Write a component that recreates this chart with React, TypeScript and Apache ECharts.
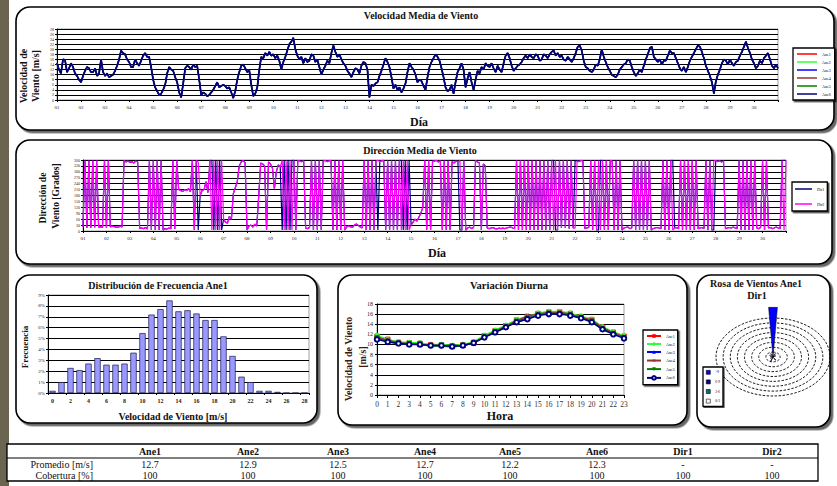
import React, { useEffect, useRef } from 'react';
import * as echarts from 'echarts';

const FONT = "'Liberation Serif', 'Times New Roman', serif";

// ---------- Velocidad media de viento (readings every 2 h, days 1..31) ----------
const speedPerDay = 12;
// the six anemometer traces overlap almost completely; read as one trace
const anemometerSpeed = [
  14.5, 12.0, 10.5, 16.0, 15.8, 11.0, 12.5, 14.5, 13.0, 10.5, 9.5, 8.0,
  7.0, 9.5, 11.5, 13.0, 12.5, 11.0, 11.0, 12.5, 9.5, 10.5, 16.0, 11.0,
  9.5, 10.5, 9.0, 9.5, 10.0, 11.5, 13.5, 16.0, 19.5, 18.5, 18.0, 16.0,
  15.0, 13.0, 13.0, 16.0, 14.5, 13.5, 15.5, 17.5, 18.5, 17.0, 17.0, 13.0,
  8.0, 5.0, 3.5, 2.0, 2.5, 4.0, 6.0, 10.5, 13.0, 12.0, 11.5, 9.0,
  7.0, 3.0, 1.0, 6.5, 12.5, 13.5, 13.0, 12.0, 14.0, 13.0, 13.5, 8.0,
  2.0, 3.0, 2.5, 1.5, 2.0, 3.0, 4.0, 5.5, 7.0, 5.0, 5.5, 6.0,
  5.5, 4.5, 5.0, 3.0, 0.8, 3.5, 8.0, 11.0, 13.5, 14.0, 12.5, 11.0,
  11.8, 6.0, 1.5, 2.5, 5.0, 12.0, 17.0, 16.5, 18.5, 17.5, 19.0, 17.5,
  18.0, 16.5, 17.5, 15.5, 12.0, 15.0, 17.0, 19.5, 22.0, 23.0, 24.5, 20.0,
  17.5, 16.0, 17.0, 14.5, 16.5, 15.0, 15.5, 18.0, 17.5, 15.0, 16.0, 13.0,
  10.0, 12.0, 13.5, 15.5, 14.5, 18.5, 21.5, 19.0, 17.0, 18.0, 16.0, 14.5,
  13.5, 11.5, 10.5, 9.0, 11.0, 12.5, 12.0, 10.5, 13.5, 15.0, 14.5, 12.0,
  1.0, 6.0, 5.5, 6.5, 7.0, 9.5, 11.5, 14.0, 16.5, 15.0, 13.0, 9.0,
  4.5, 6.0, 4.0, 5.0, 3.0, 4.5, 6.5, 11.0, 14.5, 13.0, 12.0, 10.0,
  7.0, 8.0, 7.5, 5.5, 4.0, 9.0, 13.0, 15.0, 16.5, 18.0, 17.0, 15.5,
  12.5, 9.0, 5.0, 3.5, 4.0, 6.0, 2.5, 7.0, 11.0, 12.5, 14.5, 12.0,
  5.0, 8.5, 11.0, 7.0, 4.0, 8.0, 11.5, 10.5, 13.0, 12.0, 14.5, 13.5,
  13.0, 14.5, 12.5, 11.0, 13.5, 12.0, 11.0, 14.5, 17.5, 18.5, 16.5, 13.5,
  11.5, 12.5, 13.5, 14.0, 15.0, 16.5, 17.5, 16.5, 18.0, 17.0, 16.5, 18.0,
  17.5, 15.5, 16.0, 18.0, 17.5, 16.5, 18.0, 19.0, 19.5, 17.5, 18.5, 17.0,
  17.5, 16.0, 15.5, 17.0, 16.0, 15.0, 16.5, 18.5, 21.0, 21.5, 19.5, 15.5,
  13.0, 12.5, 11.5, 11.0, 12.0, 14.0, 13.5, 16.0, 20.0, 17.0, 15.0, 13.0,
  11.5, 10.0, 9.5, 9.0, 10.0, 12.0, 13.0, 14.0, 14.5, 16.0, 15.5, 13.0,
  11.0, 9.5, 10.5, 12.0, 11.0, 13.5, 16.0, 18.0, 20.5, 21.0, 17.0, 16.0,
  15.0, 16.0, 14.0, 15.5, 15.5, 17.5, 19.5, 18.5, 18.5, 16.5, 14.5, 12.5,
  11.5, 13.0, 11.0, 13.0, 15.5, 17.0, 18.5, 20.0, 21.5, 21.0, 19.0, 16.5,
  13.5, 11.5, 9.5, 7.0, 2.5, 7.5, 10.0, 12.0, 14.5, 16.0, 15.5, 14.0,
  16.0, 14.5, 13.5, 15.0, 15.5, 17.5, 19.0, 21.0, 23.0, 20.5, 18.5, 16.0,
  14.5, 12.5, 13.5, 15.5, 14.5, 16.5, 17.5, 18.5, 16.0, 13.5, 12.5, 14.0,
  12.5,
];

// ---------- Dirección media de viento (readings every 2 h) ----------
const dirPerDay = 12;
const dir2Deg = [
  20, 358, 15, 358, 15, 358, 18, 358, 20, 22, 18, 358,
  15, 358, 20, 25, 22, 20, 18, 25, 20, 358, 350, 355,
  348, 352, 345, 355, 350, 15, 15, 12, 18, 10, 358, 5,
  358, 5, 358, 5, 358, 5, 12, 10, 15, 12, 358, 10,
  358, 210, 205, 200, 210, 205, 215, 200, 358, 5, 358, 350,
  180, 205, 210, 250, 195, 358, 5, 358, 5, 358, 5, 358,
  60, 45, 40, 75, 60, 190, 220, 250, 330, 350, 358, 345,
  5, 25, 30, 20, 35, 25, 180, 345, 340, 330, 5, 350,
  340, 320, 215, 300, 335, 325, 358, 5, 358, 5, 358, 5,
  358, 5, 358, 355, 352, 356, 15, 12, 18, 358, 5, 358,
  5, 358, 5, 355, 358, 352, 356, 358, 5, 358, 5, 358,
  5, 358, 5, 20, 25, 22, 18, 30, 35, 28, 20, 15,
  358, 5, 358, 5, 358, 5, 355, 358, 352, 356, 358, 5,
  358, 5, 358, 5, 358, 5, 358, 5, 358, 5, 358, 5,
  30, 45, 60, 50, 70, 90, 120, 358, 5, 358, 5, 355,
  355, 358, 350, 356, 5, 358, 5, 358, 5, 352, 345, 355,
  350, 358, 5, 358, 5, 15, 20, 12, 18, 358, 350, 345,
  5, 340, 330, 15, 12, 15, 18, 12, 10, 15, 12, 15,
  12, 15, 18, 20, 15, 12, 358, 5, 358, 5, 358, 5,
  358, 5, 358, 5, 358, 5, 358, 5, 358, 5, 358, 5,
  358, 5, 358, 5, 358, 15, 358, 15, 358, 12, 358, 15,
  15, 355, 352, 358, 355, 12, 15, 18, 358, 5, 358, 5,
  358, 5, 358, 5, 358, 5, 358, 355, 5, 358, 5, 358,
  5, 15, 18, 20, 12, 15, 358, 5, 358, 5, 358, 5,
  358, 5, 358, 5, 12, 15, 18, 15, 12, 358, 5, 358,
  5, 358, 5, 15, 18, 12, 358, 5, 358, 5, 358, 5,
  358, 5, 358, 12, 15, 18, 12, 358, 5, 358, 5, 355,
  358, 352, 356, 350, 355, 12, 15, 18, 15, 20, 15, 12,
  358, 5, 358, 5, 358, 5, 358, 5, 358, 15, 12, 18,
  358, 5, 358, 15, 18, 12, 15, 20, 15, 12, 358, 5,
  358,
];
// Dir1 follows Dir2 except at these readings [day, degrees]
const dir1Differences = [
  [5.917, 5], [6.5, 358], [6.583, 5], [6.667, 358], [6.75, 5], [6.833, 358], [6.917, 5],
  [9.5, 5], [9.583, 358], [9.667, 5], [9.75, 358], [9.833, 5], [9.917, 358],
  [13.583, 5], [14.583, 358], [14.667, 5], [14.75, 358], [14.833, 5], [14.917, 358],
  [17.083, 5], [21.083, 358], [21.167, 5], [22.0, 358], [23.0, 5], [23.083, 358],
  [25.167, 358], [26.167, 358], [27.917, 5], [30.917, 358],
];

// ---------- Distribución de frecuencia Ane1 (%) ----------
const histBins = ['0','1','2','3','4','5','6','7','8','9','10','11','12','13','14','15','16','17','18','19','20','21','22','23','24','25','26','27','28'];
const histFreq = [0.2, 1.0, 2.3, 2.1, 2.7, 3.2, 2.6, 2.6, 2.7, 3.7, 5.5, 7.2, 7.7, 8.5, 7.5, 7.6, 7.3, 6.7, 6.7, 5.2, 3.4, 1.5, 1.0, 0.2, 0.2, 0.1, 0, 0, 0];

// ---------- Variación diurna ----------
const hours = ['0','1','2','3','4','5','6','7','8','9','10','11','12','13','14','15','16','17','18','19','20','21','22','23'];
const diurnalAne1 = [11.6, 11.0, 10.4, 10.3, 10.2, 9.9, 9.9, 9.7, 9.9, 10.4, 11.7, 12.7, 13.7, 14.8, 15.5, 16.1, 16.4, 16.4, 16.1, 15.5, 14.9, 13.4, 12.4, 11.6];
const diurnalAne2 = [11.8, 11.0, 10.5, 10.4, 10.3, 10.0, 10.0, 9.8, 10.0, 10.5, 11.8, 12.8, 13.8, 14.9, 15.6, 16.2, 16.5, 16.5, 16.2, 15.6, 15.0, 13.5, 12.5, 11.7];
const diurnalAne3 = [11.3, 10.8, 10.3, 10.1, 10.0, 9.8, 9.8, 9.6, 9.8, 10.3, 11.5, 12.5, 13.5, 14.6, 15.2, 15.8, 16.2, 16.2, 15.9, 15.3, 14.7, 13.2, 12.2, 11.4];
const diurnalAne4 = [11.4, 10.8, 10.3, 10.2, 10.1, 9.8, 9.8, 9.6, 9.8, 10.3, 11.5, 12.6, 13.6, 14.7, 15.6, 16.0, 16.3, 16.3, 16.0, 15.4, 14.8, 13.3, 12.3, 11.5];
const diurnalAne5 = [11.2, 10.6, 10.2, 10.1, 10.0, 9.7, 9.7, 9.5, 9.8, 10.3, 11.4, 12.4, 13.4, 14.5, 15.1, 15.8, 16.1, 16.1, 15.8, 15.2, 14.5, 13.0, 12.1, 11.3];
const diurnalAne6 = [11.0, 10.5, 10.2, 10.0, 10.0, 9.8, 9.8, 9.6, 9.8, 10.3, 11.4, 12.4, 13.4, 14.4, 15.0, 15.7, 16.0, 16.0, 15.7, 15.2, 14.4, 13.0, 12.0, 11.2];

// ---------- Rosa de vientos Ane1 / Dir1 ----------
const roseDirs = [0, 25, 60, 150, 200, 235, 300, 335];
const rose03 = [0.2, 0.1, 0.1, 0.1, 0.15, 0.1, 0.1, 0.1];
const rose36 = [0.3, 0.15, 0.1, 0.15, 0.2, 0.1, 0.1, 0.15];
const rose69 = [0.8, 0.2, 0.1, 0.2, 0.25, 0.1, 0.15, 0.2];
const roseGt9 = [8.9, 0.3, 0.15, 0.3, 0.4, 0.15, 0.2, 0.3];
const roseRings = [1, 2, 3, 4, 5, 6, 7, 8];

// ---------- Tabla ----------
const tableHeaders = ['Ane1', 'Ane2', 'Ane3', 'Ane4', 'Ane5', 'Ane6', 'Dir1', 'Dir2'];
const promedio = ['12.7', '12.9', '12.5', '12.7', '12.2', '12.3', '-', '-'];
const cobertura = ['100', '100', '100', '100', '100', '100', '100', '100'];

// ---------- styles ----------
const aneNames = ['Ane1', 'Ane2', 'Ane3', 'Ane4', 'Ane5', 'Ane6'];
const aneColors = ['#ff0000', '#33ff33', '#0000ff', '#993333', '#008000', '#000080'];
const diurnalSymbols = ['rect', 'circle', 'triangle', 'path://M0,4H10V6H0ZM4,0H6V10H4Z', 'triangle', 'emptyCircle'];
const diurnalRotate = [0, 0, 0, 45, 180, 0];
const roseNames = ['0-3', '3-6', '6-9', '>9'];
const roseColors = ['#ffffff', '#007070', '#000099', '#0000ff'];
const tableColX = [150, 248, 338, 425, 510, 597, 683, 772];

const pad2 = (v: number) => (v < 10 ? '0' + v : String(v));

function buildOption() {
  const speedData = anemometerSpeed.map((v, i) => [1 + i / speedPerDay, v]);
  const dir1Deg = dir2Deg.slice();
  dir1Differences.forEach(([d, v]) => { dir1Deg[Math.round((d - 1) * dirPerDay)] = v; });
  const dir1Data = dir1Deg.map((v, i) => [1 + i / dirPerDay, v]);
  const dir2Data = dir2Deg.map((v, i) => [1 + i / dirPerDay, v]);
  const diurnal = [diurnalAne1, diurnalAne2, diurnalAne3, diurnalAne4, diurnalAne5, diurnalAne6];

  const roseClasses = [rose03, rose36, rose69, roseGt9];
  const base = roseDirs.map(() => 0);
  const roseSeries = roseClasses.map((cls, ci) => {
    const data = roseDirs.map((d, i) => {
      const r0 = base[i];
      base[i] += cls[i];
      return [d, r0, base[i]];
    });
    return {
      type: 'custom', name: roseNames[ci], xAxisIndex: 4, yAxisIndex: 4, clip: false, z: 5,
      itemStyle: { color: roseColors[ci], borderColor: '#000', borderWidth: 0.5 },
      data,
      renderItem: (params: any, api: any) => {
        const dir = api.value(0), r0 = api.value(1), r1 = api.value(2);
        if (r1 - r0 <= 0) return null;
        const hw = 3.5;
        const pts: number[][] = [];
        const xy = (a: number, r: number) => api.coord([r * Math.sin(a * Math.PI / 180), r * Math.cos(a * Math.PI / 180)]);
        pts.push(xy(dir - hw, r1));
        pts.push(xy(dir + hw, r1));
        if (r0 > 0) { pts.push(xy(dir + hw, r0)); pts.push(xy(dir - hw, r0)); }
        else pts.push(api.coord([0, 0]));
        return { type: 'polygon', shape: { points: pts }, style: { fill: roseColors[ci], stroke: '#000', lineWidth: 0.5 } };
      },
    };
  });

  const axisLabelBase = { fontFamily: FONT, color: '#222' };
  const txt = (text: string, x: number, y: number, size: number, opts: any = {}) => ({
    type: 'text', x, y, z: 20, rotation: opts.rotation || 0,
    style: {
      text, fill: opts.color || '#111',
      fontFamily: FONT, fontSize: size, fontWeight: opts.weight || 'bold',
      textAlign: opts.align || 'center', textVerticalAlign: 'middle', align: opts.align || 'center', verticalAlign: 'middle',
    },
  });
  const panel = (x: number, y: number, w: number, h: number) => ({
    type: 'rect', z: -10, shape: { x, y, width: w, height: h, r: 14 },
    style: { fill: '#fff', stroke: '#000', lineWidth: 1.6, shadowBlur: 0, shadowOffsetX: 2.5, shadowOffsetY: 2.5, shadowColor: 'rgba(0,0,0,0.6)' },
  });

  const graphics: any[] = [
    { type: 'rect', z: -20, shape: { x: 0, y: 0, width: 9, height: 486 }, style: { fill: '#6b6450' } },
    panel(16, 7, 818, 123),
    panel(16, 140, 816, 124),
    panel(16, 275, 301, 148),
    panel(338, 275, 349, 150),
    panel(697, 275, 133, 152),
    txt('Velocidad Media de Viento', 421, 15, 10),
    txt('Día', 419, 122, 12),
    txt('Velocidad de', 23, 76, 10, { rotation: Math.PI / 2 }),
    txt('Viento [m/s]', 35, 76, 10, { rotation: Math.PI / 2 }),
    txt('Dirección Media de Viento', 420, 150, 10),
    txt('Día', 437, 253, 12),
    txt('Dirección de', 43, 198, 9.5, { rotation: Math.PI / 2 }),
    txt('Viento [Grados]', 56, 196, 9.5, { rotation: Math.PI / 2 }),
    txt('Distribución de Frecuencia Ane1', 158, 285, 10),
    txt('Velocidad de Viento [m/s]', 173, 416, 10),
    txt('Frecuencia', 25, 347, 9, { rotation: Math.PI / 2 }),
    txt('Variación Diurna', 509, 285, 10.5),
    txt('Hora', 500, 416, 12),
    txt('Velocidad de Viento', 348, 359, 10, { rotation: Math.PI / 2, color: '#3b1810' }),
    txt('[m/s]', 362, 357, 10, { rotation: Math.PI / 2, color: '#3b1810' }),
    txt('Rosa de Vientos Ane1', 756, 283, 10),
    txt('Dir1', 757, 295, 10),
    { type: 'rect', z: 1, shape: { x: 7, y: 444, width: 811, height: 37 }, style: { fill: '#fff', stroke: '#000', lineWidth: 1.3 } },
    { type: 'line', z: 2, shape: { x1: 7, y1: 458, x2: 818, y2: 458 }, style: { stroke: '#000', lineWidth: 1.2 } },
    txt('Promedio [m/s]', 93, 464, 10, { weight: 'normal', align: 'right' }),
    txt('Cobertura [%]', 93, 475, 10, { weight: 'normal', align: 'right' }),
  ];
  tableHeaders.forEach((h, i) => {
    graphics.push(txt(h, tableColX[i], 451, 10));
    graphics.push(txt(promedio[i], tableColX[i], 464, 10, { weight: 'normal' }));
    graphics.push(txt(cobertura[i], tableColX[i], 475, 10, { weight: 'normal' }));
  });

  const gridBase = { show: true, borderColor: '#888', borderWidth: 0.8, backgroundColor: 'transparent', containLabel: false };
  const blackSplit = { show: true, lineStyle: { color: '#000', width: 1 } };
  const blackLine = { show: true, lineStyle: { color: '#000', width: 1 } };

  const timeX = (gridIndex: number) => ({
    gridIndex, type: 'value', min: 1, max: 31, interval: 1,
    axisLine: blackLine, axisTick: { show: true, length: 2, lineStyle: { color: '#000' } },
    axisLabel: { ...axisLabelBase, fontSize: 5, margin: 5, formatter: (v: number) => (v >= 31 ? '' : pad2(v)) },
    splitLine: { show: false },
  });

  const legendBase = {
    orient: 'vertical', selectedMode: false, backgroundColor: '#fff', borderColor: '#000', borderWidth: 1.3,
    shadowBlur: 0, shadowOffsetX: 1.5, shadowOffsetY: 1.5, shadowColor: 'rgba(0,0,0,0.7)',
    textStyle: { fontFamily: FONT, fontSize: 4, color: '#000' },
  };

  const diurnalSeries = aneNames.map((n, i) => ({
    type: 'line', name: n, xAxisIndex: 3, yAxisIndex: 3, data: diurnal[i],
    symbol: diurnalSymbols[i], symbolRotate: diurnalRotate[i], symbolSize: 4.5, showSymbol: true,
    lineStyle: { color: aneColors[i], width: 1.5 }, itemStyle: { color: aneColors[i], borderColor: aneColors[i] },
    z: 3 + i,
  }));
  const speedSeries = aneNames.map((n, i) => ({
    type: 'line', name: n, xAxisIndex: 0, yAxisIndex: 0, data: speedData, showSymbol: false, symbol: 'none',
    lineStyle: { color: aneColors[i], width: i === 5 ? 1.8 : 1.2 }, itemStyle: { color: aneColors[i] }, z: 3 + i,
  }));

  return {
    animation: false,
    backgroundColor: '#fff',
    graphic: { elements: graphics },
    grid: [
      { ...gridBase, left: 57, top: 29, width: 721, height: 71 },
      { ...gridBase, left: 83, top: 160, width: 703, height: 71 },
      { ...gridBase, left: 48, top: 295, width: 261, height: 98 },
      { ...gridBase, left: 377, top: 304, width: 247, height: 91 },
      { show: false, left: 716, top: 318, width: 114, height: 78 },
    ],
    xAxis: [
      timeX(0),
      timeX(1),
      {
        gridIndex: 2, type: 'category', data: histBins, boundaryGap: true,
        axisLine: blackLine, axisTick: { show: true, length: 2, lineStyle: { color: '#000' } },
        axisLabel: { ...axisLabelBase, fontSize: 6, fontWeight: 'bold', interval: 1, margin: 5 },
      },
      {
        gridIndex: 3, type: 'category', data: hours, boundaryGap: false,
        axisLine: blackLine, axisTick: { show: true, length: 3, lineStyle: { color: '#000' } },
        axisLabel: { ...axisLabelBase, fontSize: 7.5, interval: 0, margin: 5, color: '#333' },
      },
      { gridIndex: 4, type: 'value', min: -8, max: 8, show: false },
    ],
    yAxis: [
      {
        gridIndex: 0, type: 'value', min: 0, max: 28, interval: 2,
        axisLine: blackLine, axisTick: { show: true, length: 2, lineStyle: { color: '#000' } },
        axisLabel: { ...axisLabelBase, fontSize: 4, margin: 3 }, splitLine: blackSplit,
      },
      {
        gridIndex: 1, type: 'value', min: 0, max: 360, interval: 30,
        axisLine: blackLine, axisTick: { show: true, length: 2, lineStyle: { color: '#000' } },
        axisLabel: { ...axisLabelBase, fontSize: 4, margin: 3 }, splitLine: blackSplit,
      },
      {
        gridIndex: 2, type: 'value', min: 0, max: 9, interval: 1,
        axisLine: blackLine, axisTick: { show: true, length: 2, lineStyle: { color: '#000' } },
        axisLabel: { ...axisLabelBase, fontSize: 5, margin: 3, formatter: '{value}%' }, splitLine: blackSplit,
      },
      {
        gridIndex: 3, type: 'value', min: 0, max: 18, interval: 2,
        axisLine: blackLine, axisTick: { show: true, length: 2, lineStyle: { color: '#000' } },
        axisLabel: { ...axisLabelBase, fontSize: 6, margin: 4 }, splitLine: blackSplit,
      },
      { gridIndex: 4, type: 'value', min: -8, max: 8, show: false },
    ],
    legend: [
      {
        ...legendBase, data: aneNames, left: 793, top: 48, padding: [4, 4, 4, 4], itemGap: 4,
        icon: 'rect', itemWidth: 20, itemHeight: 1.5,
      },
      {
        ...legendBase, data: ['Dir1', 'Dir2'], left: 792, top: 182, padding: [5, 3, 5, 3], itemGap: 11,
        icon: 'rect', itemWidth: 17, itemHeight: 1.5,
      },
      {
        ...legendBase, data: aneNames, left: 643, top: 330, padding: [4, 3, 4, 3], itemGap: 4,
        itemWidth: 14, itemHeight: 4.5,
      },
      {
        ...legendBase, data: ['>9', '6-9', '3-6', '0-3'], left: 703, top: 367, padding: [3, 3, 3, 3], itemGap: 5,
        icon: 'rect', itemWidth: 4, itemHeight: 4, shadowOffsetX: 1, shadowOffsetY: 1,
        itemStyle: { borderColor: '#000', borderWidth: 0.6 },
        textStyle: { fontFamily: FONT, fontSize: 3.5, color: '#000' },
      },
    ],
    series: [
      ...diurnalSeries,
      ...speedSeries,
      {
        type: 'line', name: 'Dir1', xAxisIndex: 1, yAxisIndex: 1, data: dir1Data, showSymbol: false, symbol: 'none',
        lineStyle: { color: '#000080', width: 1.2 }, itemStyle: { color: '#000080' }, z: 3,
      },
      {
        type: 'line', name: 'Dir2', xAxisIndex: 1, yAxisIndex: 1, data: dir2Data, showSymbol: false, symbol: 'none',
        lineStyle: { color: '#ff00ff', width: 1.2 }, itemStyle: { color: '#ff00ff' }, z: 4,
      },
      {
        type: 'bar', name: 'Frecuencia', xAxisIndex: 2, yAxisIndex: 2, data: histFreq, barCategoryGap: '30%',
        itemStyle: { color: '#9999ff', borderColor: '#1a1a4d', borderWidth: 0.7 },
      },
      {
        type: 'custom', name: 'rings', xAxisIndex: 4, yAxisIndex: 4, clip: false, z: 3,
        data: roseRings.map((r) => [r, 0]),
        renderItem: (params: any, api: any) => {
          const r = api.value(0);
          const pts: number[][] = [];
          for (let k = 0; k <= 90; k++) {
            const a = (k * 4 * Math.PI) / 180;
            pts.push(api.coord([r * Math.sin(a), r * Math.cos(a)]));
          }
          return { type: 'polyline', shape: { points: pts }, style: { stroke: '#000', fill: null, lineWidth: 0.9, lineDash: [2.5, 1.5] } };
        },
      },
      ...roseSeries,
    ],
  };
}

export default function App() {
  const ref = useRef<HTMLDivElement>(null);
  useEffect(() => {
    if (!ref.current) return;
    const chart = echarts.init(ref.current, undefined, { renderer: 'svg' });
    chart.setOption(buildOption() as any);
    return () => chart.dispose();
  }, []);
  return <div ref={ref} style={{ position: 'fixed', left: 0, top: 0, width: 837, height: 486, background: '#fff' }} />;
}
